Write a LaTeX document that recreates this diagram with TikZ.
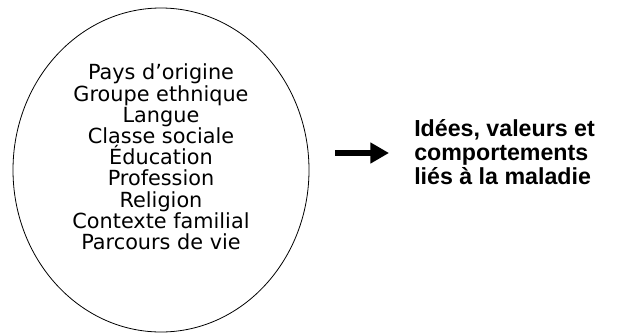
\documentclass[tikz,border=0pt]{standalone}
\usepackage{fontspec}
\setmainfont{DejaVu Sans}
\newfontfamily\helvfont{Liberation Sans}
\usepackage{tikz}
\usetikzlibrary{arrows.meta}

\begin{document}
\begin{tikzpicture}[x=0.75pt,y=-0.75pt,
  facteurs/.style={align=center,inner sep=0pt,font=\fontsize{15.6pt}{15.9pt}\selectfont},
  resultat/.style={align=left,anchor=west,inner sep=0pt,font=\helvfont\bfseries\fontsize{17.4pt}{18pt}\selectfont},
  grossefleche/.style={line width=4.5pt,-{Triangle[length=14pt,width=15pt]}}]

\useasboundingbox (0,0) rectangle (628,333);					% cadre

\draw[line width=0.6pt] (161,170) ellipse [x radius=148, y radius=162];	% ellipse des facteurs

\node[facteurs] (facteurs) at (161,157) {Pays d’origine\\Groupe ethnique\\Langue\\Classe sociale\\Éducation\\Profession\\Religion\\Contexte familial\\Parcours de vie};

\node[resultat] (resultat) at (414,152) {Idées, valeurs et\\comportements\\liés à la maladie};

\coordinate (debut) at (335,153);						% départ de la flèche
\coordinate (fin) at (389,153);							% pointe de la flèche
\draw[grossefleche] (debut) -- (fin);

\end{tikzpicture}
\end{document}
